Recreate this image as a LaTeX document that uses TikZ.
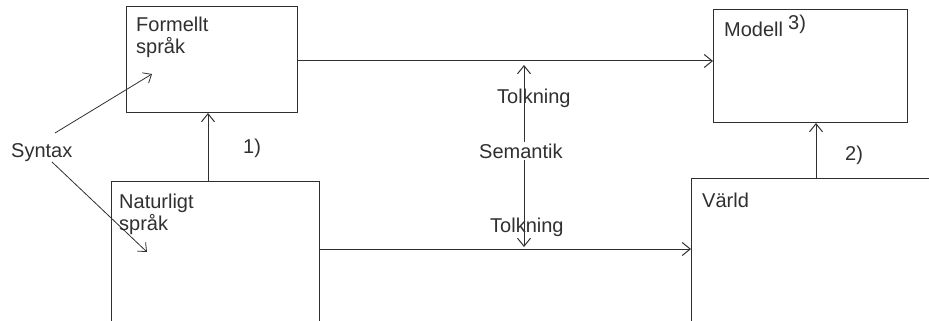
\documentclass[tikz,border=0pt]{standalone}
\usepackage{fontspec}
\setmainfont{Liberation Sans}
\usetikzlibrary{arrows.meta}
\definecolor{ink}{HTML}{303030}
\begin{document}
\begin{tikzpicture}[x=1pt,y=-1pt,
  box/.style={draw=ink, line width=1pt, rectangle, inner sep=0pt, anchor=north west},
  lbl/.style={font=\fontsize{20}{22}\selectfont, text=ink, inner sep=0pt, anchor=base west},
  mlbl/.style={font=\fontsize{20}{22}\selectfont, text=ink, inner sep=0pt, anchor=north west, align=left},
  arr/.style={draw=ink, line width=1pt, -{Straight Barb[length=8pt,width=13pt]}},
  darr/.style={draw=ink, line width=1pt, {Straight Barb[length=8pt,width=13pt]}-{Straight Barb[length=8pt,width=13pt]}},
  thin arr/.style={draw=ink, line width=0.8pt, -{Straight Barb[length=7pt,width=12pt]}}]
\useasboundingbox (0,0) rectangle (929,321);
\fill[white] (0,0) rectangle (929,321);

% boxes
\node[box, minimum width=171pt, minimum height=106pt] (formal) at (126,6) {};
\node[box, minimum width=208pt, minimum height=170pt] (nat) at (111,181) {};
\node[box, minimum width=194pt, minimum height=113pt] (modell) at (713,9) {};
\node[box, minimum width=260pt, minimum height=170pt] (world) at (691,178) {};

% box labels
\node[mlbl] (formaltxt) at (136,17) {Formellt\\språk};
\node[mlbl] (nattxt) at (119,194) {Naturligt\\språk};
\node[lbl] (worldtxt) at (702,207) {Värld};
\node[lbl] (modelltxt) at (724,37) {Modell};
\node[lbl] (three) at (788,30) {3)};

% helper coordinates
\coordinate (c1) at (208,0);
\coordinate (c2) at (816,0);
\coordinate (ytop) at (0,61);
\coordinate (ybot) at (0,249);
\coordinate (ttop) at (524,65);
\coordinate (tbot) at (524,247);
\coordinate (s1a) at (55,133);
\coordinate (s1b) at (152,74);
\coordinate (s2a) at (52,162);
\coordinate (s2b) at (147,252);

% connectors
\draw[arr] (nat.north -| c1) -- (formal.south -| c1);
\draw[arr] (world.north -| c2) -- (modell.south -| c2);
\draw[arr] (formal.east |- ytop) -- (modell.west |- ytop);
\draw[arr] (nat.east |- ybot) -- (world.west |- ybot);
\draw[darr] (ttop) -- (tbot);

% Syntax
\node[lbl] (syntax) at (11,157) {Syntax};
\draw[thin arr] (s1a) -- (s1b);
\draw[thin arr] (s2a) -- (s2b);

% labels
\node[lbl] (one) at (243,153) {1)};
\node[lbl] (two) at (845,160) {2)};
\node[lbl] (tolk1) at (497,103) {Tolkning};
\node[lbl, fill=white, inner sep=2pt] (sem) at (477,158) {Semantik};
\node[lbl] (tolk2) at (490,232) {Tolkning};
\end{tikzpicture}
\end{document}
